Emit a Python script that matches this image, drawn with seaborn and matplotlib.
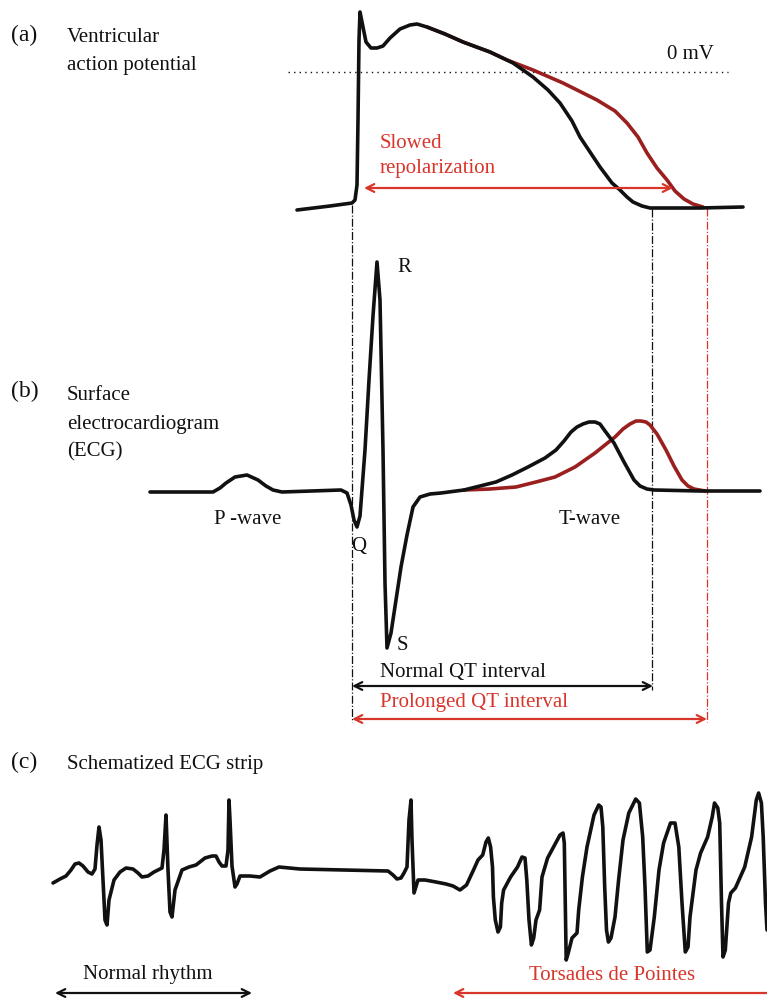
import numpy as np
import seaborn as sns
import matplotlib.pyplot as plt

sns.set_theme(style="white")
plt.rcParams['font.family'] = ['Liberation Serif', 'DejaVu Serif']

# all traces are in picture units (x to the right, y downwards)
# (a) ventricular action potential, normal
ap_x = [297, 330, 352, 355, 357, 358, 359, 360, 362, 366, 371, 377, 383, 390, 400, 410, 417, 427, 445,
        463, 490, 513, 533, 548, 560, 572, 580, 590, 600, 612, 620, 627, 633, 642, 650, 700, 743]
ap_y = [210, 206, 203, 200, 185, 120, 40, 12, 22, 42, 48, 48, 46, 38, 29, 25, 24, 27, 34,
        42, 52, 63, 77, 90, 103, 121, 137, 152, 167, 183, 190, 197, 202, 206, 208, 208, 207]
# (a) action potential with slowed repolarization
ap_red_x = [427, 445, 463, 490, 507, 533, 563, 597, 615, 627, 638, 647, 657, 667, 675, 684, 693, 703]
ap_red_y = [27, 34, 42, 52, 60, 70, 83, 100, 111, 123, 137, 153, 168, 180, 191, 199, 204, 207]

# (b) surface ECG, normal
ecg_x = [150, 213, 220, 226, 235, 247, 258, 266, 273, 282, 341, 347, 351, 354, 357, 360, 365, 369,
         373, 377, 380, 383, 385, 387, 391, 396, 401, 407, 413, 420, 430, 441, 464, 480, 496, 512,
         528, 545, 556, 564, 571, 577, 583, 589, 595, 600, 605, 614, 624, 634, 640, 647, 654, 700, 760]
ecg_y = [492, 492, 488, 483, 477, 475, 480, 486, 490, 492, 490, 493, 505, 520, 527, 516, 450, 380,
         316, 262, 300, 450, 583, 648, 633, 600, 567, 535, 507, 497, 494, 493, 490, 486, 482, 475,
         467, 458, 450, 441, 432, 427, 424, 422, 422, 424, 431, 443, 462, 480, 486, 489, 490, 491, 491]
# (b) T-wave with prolonged QT
t_red_x = [464, 490, 516, 536, 555, 575, 595, 605, 615, 623, 630, 636, 641, 646, 650, 657, 666, 674,
           682, 688, 694, 705]
t_red_y = [490, 489, 487, 482, 477, 467, 453, 445, 437, 429, 424, 421, 421, 422, 425, 434, 450, 466,
           480, 486, 489, 491]

# (c) schematized ECG strip: normal beats, pause, then torsades de pointes
strip_x = [53, 60, 66, 71, 75, 79, 83, 88, 92, 95, 97, 99, 101, 103, 105, 107, 109, 114, 120, 126,
           133, 138, 142, 148, 154, 158, 162, 164, 166, 168, 170, 172, 175, 182, 189, 196, 205, 212,
           216, 219, 222, 226, 228, 229, 230, 232, 235, 237, 240, 250, 260, 270, 279, 300, 388, 393,
           397, 401, 404, 407, 409, 411, 412, 414, 418, 425, 436, 446, 453, 460,
           466.5, 473.5, 478, 482.7, 486, 488.3, 490.6, 492.5, 493.4, 495.3, 498, 500.4, 501.7, 503.6,
           510.6, 517.5, 522, 525, 526.8, 529, 531.4, 533.7, 536, 539.6, 542, 547.6, 554.6, 560, 563,
           564.3, 565.3, 566.2, 568.5, 572, 577, 578.7, 582.4, 587, 594, 598.7, 601, 602.8, 604.7,
           606.5, 608.4, 611, 615, 618.6, 623, 628.8, 635.7, 639.4, 642.7, 645, 647.3, 650, 654.3, 659,
           663.6, 670.5, 675, 678.8, 682, 685.3, 688, 690, 696, 700.6, 707.6, 712.2, 714.5, 717.8,
           719.7, 721.5, 723, 725.3, 728.5, 730.8, 735.4, 744.7, 751.6, 756.3, 758.6, 761.4, 763.2,
           765.5, 767]
strip_y = [883, 879, 876, 870, 864, 863, 866, 872, 874, 869, 845, 827, 840, 880, 920, 925, 900, 880,
           872, 868, 869, 873, 877, 876, 872, 870, 868, 850, 815, 870, 912, 917, 890, 870, 867, 865,
           858, 856, 856, 862, 866, 866, 850, 800, 820, 866, 887, 884, 876, 876, 877, 871, 867, 869,
           871, 875, 879, 878, 873, 867, 820, 800, 840, 893, 880, 880, 882, 884, 886, 890,
           885, 870, 860, 855, 842, 838, 847, 867, 897, 920, 932, 927, 903, 890,
           877, 867, 857, 858, 880, 920, 945, 938, 920, 910, 877, 858, 845, 835, 833,
           843, 903, 960, 952, 938, 933, 910, 877, 847, 815, 805, 807, 827, 887,
           930, 942, 938, 917, 880, 840, 813, 799, 803, 837, 887, 952, 950, 917, 870,
           843, 823, 823, 847, 903, 952, 947, 917, 870, 853, 837, 817, 803, 808,
           823, 903, 957, 950, 903, 893, 888, 867, 837, 800, 793, 803, 837,
           903, 930]

fig = plt.figure(figsize=(7.67, 10.06), dpi=100)
ax = fig.add_axes([0, 0, 1, 1])
ax.set_xlim(0, 767)
ax.set_ylim(1006, 0)
ax.axis("off")

black = "#111111"
dark_red = "#9a1f1f"
red = "#d8352b"

# guide lines
ax.plot([288, 728], [72, 72], color=black, lw=1, ls=(0, (1, 3)))
ax.plot([352, 352], [205, 722], color=black, lw=0.9, ls="-.")
ax.plot([652, 652], [209, 690], color=black, lw=0.9, ls="-.")
ax.plot([707, 707], [208, 722], color=red, lw=0.9, ls="-.")

lw = 2.6
sns.lineplot(x=ap_red_x, y=ap_red_y, sort=False, estimator=None, ax=ax, color=dark_red, lw=lw)
sns.lineplot(x=ap_x, y=ap_y, sort=False, estimator=None, ax=ax, color=black, lw=lw)
sns.lineplot(x=t_red_x, y=t_red_y, sort=False, estimator=None, ax=ax, color=dark_red, lw=lw)
sns.lineplot(x=ecg_x, y=ecg_y, sort=False, estimator=None, ax=ax, color=black, lw=lw)
sns.lineplot(x=strip_x, y=strip_y, sort=False, estimator=None, ax=ax, color=black, lw=lw)
for ln in ax.lines:
    ln.set_solid_joinstyle("round")
    ln.set_solid_capstyle("round")


def arrow(x0, x1, y, color, style="<->"):
    ax.annotate("", xy=(x1, y), xytext=(x0, y),
                arrowprops=dict(arrowstyle=style, color=color, lw=1.6,
                                mutation_scale=14, shrinkA=0, shrinkB=0))


arrow(364, 673, 188, red)
arrow(352, 653, 686, black)
arrow(352, 707, 719, red)
arrow(55, 252, 993, black)
arrow(767, 453, 993, red, style="->")

fs = 15
big = 17
# panel labels
ax.text(11, 35, "(a)", fontsize=big, color=black, va="center")
ax.text(11, 391, "(b)", fontsize=big, color=black, va="center")
ax.text(11, 762, "(c)", fontsize=big, color=black, va="center")
ax.text(67, 37, "Ventricular", fontsize=fs, color=black, va="center")
ax.text(67, 65, "action potential", fontsize=fs, color=black, va="center")
ax.text(67, 396, "Surface", fontsize=fs, color=black, va="center")
ax.text(67, 424, "electrocardiogram", fontsize=fs, color=black, va="center")
ax.text(67, 452, "(ECG)", fontsize=fs, color=black, va="center")
ax.text(67, 765, "Schematized ECG strip", fontsize=fs, color=black, va="center")

ax.text(667, 54, "0 mV", fontsize=fs, color=black, va="center")
ax.text(380, 143, "Slowed", fontsize=fs, color=red, va="center")
ax.text(380, 168, "repolarization", fontsize=fs, color=red, va="center")

ax.text(397, 268, "R", fontsize=fs, color=black, va="center")
ax.text(248, 519, "P -wave", fontsize=fs, color=black, va="center", ha="center")
ax.text(359, 547, "Q", fontsize=fs, color=black, va="center", ha="center")
ax.text(397, 645, "S", fontsize=fs, color=black, va="center")
ax.text(590, 519, "T-wave", fontsize=fs, color=black, va="center", ha="center")
ax.text(463, 672, "Normal QT interval", fontsize=fs, color=black, va="center", ha="center")
ax.text(474, 703, "Prolonged QT interval", fontsize=fs, color=red, va="center", ha="center")
ax.text(148, 975, "Normal rhythm", fontsize=fs, color=black, va="center", ha="center")
ax.text(612, 975, "Torsades de Pointes", fontsize=fs, color=red, va="center", ha="center")

fig.savefig("out.png", dpi=100, facecolor="white")
